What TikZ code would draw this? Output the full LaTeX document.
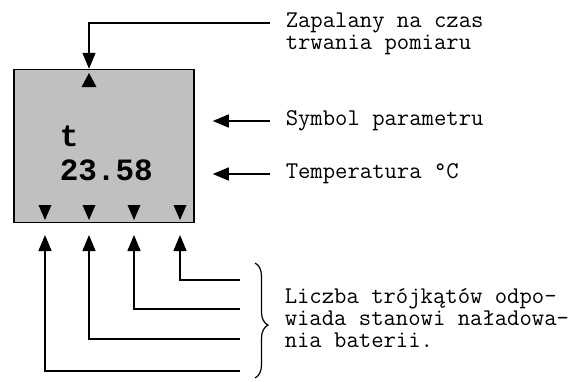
\documentclass[tikz,border=0pt]{standalone}
\usepackage{fontspec}
\setmainfont{Liberation Mono}
\usetikzlibrary{arrows.meta,decorations.pathreplacing}

\definecolor{lcdgray}{HTML}{C0C0C0}
\tikzset{
    note/.style={anchor=west,inner sep=0pt,align=left,font=\ttfamily\fontsize{24}{22}\selectfont},
    lcd/.style={anchor=west,inner sep=0pt,font=\fontsize{31}{32}\selectfont\bfseries},
}

\begin{document}
\begin{tikzpicture}[x=1pt,y=-1pt,>={Triangle[width=13pt,length=16pt]},line width=1.5pt]
    \useasboundingbox (0,0) rectangle (579,381);
    % wyswietlacz
    \node[draw,fill=lcdgray,minimum width=180pt,minimum height=153pt,inner sep=0pt] (disp) at (104,146) {};
    \node[lcd] (sym) at (59,136) {t};
    \node[lcd] (val) at (59,170) {23.58};
    \coordinate (lampmark) at (89,73);
    \fill (lampmark) -- ++(7.5,14) -- ++(-15,0) -- cycle;
    \foreach \xx in {45,89,134,180}
        \fill (\xx,220) -- ({\xx+6.5},205) -- ({\xx-6.5},205) -- cycle;
    % opisy
    \node[note] (lamp) at (285,34) {Zapalany na czas\\trwania pomiaru};
    \node[note] (symtxt) at (285,121) {Symbol parametru};
    \node[note] (temptxt) at (285,174) {Temperatura °C};
    \node[note] (battxt) at (284,318) {Liczba trójkątów odpo-\\wiada stanowi naładowa-\\nia baterii.};
    \coordinate (lampend) at (270,23);
    \draw[->] (lampend) -| (disp.north -| lampmark);
    \draw[->] ([xshift=-15pt]symtxt.west) -- ([xshift=18pt]disp.east |- symtxt.west);
    \draw[->] ([xshift=-15pt]temptxt.west) -- ([xshift=18pt]disp.east |- temptxt.west);
    % trojkaty baterii
    \foreach \xx/\yy in {180/280,134/309,89/339,45/371}
        \draw[<-] (\xx,235) |- (240,\yy);
    \draw[line width=1.2pt,decorate,decoration={brace,amplitude=13pt,aspect=0.54}] (255,263) -- (255,378);
\end{tikzpicture}
\end{document}
